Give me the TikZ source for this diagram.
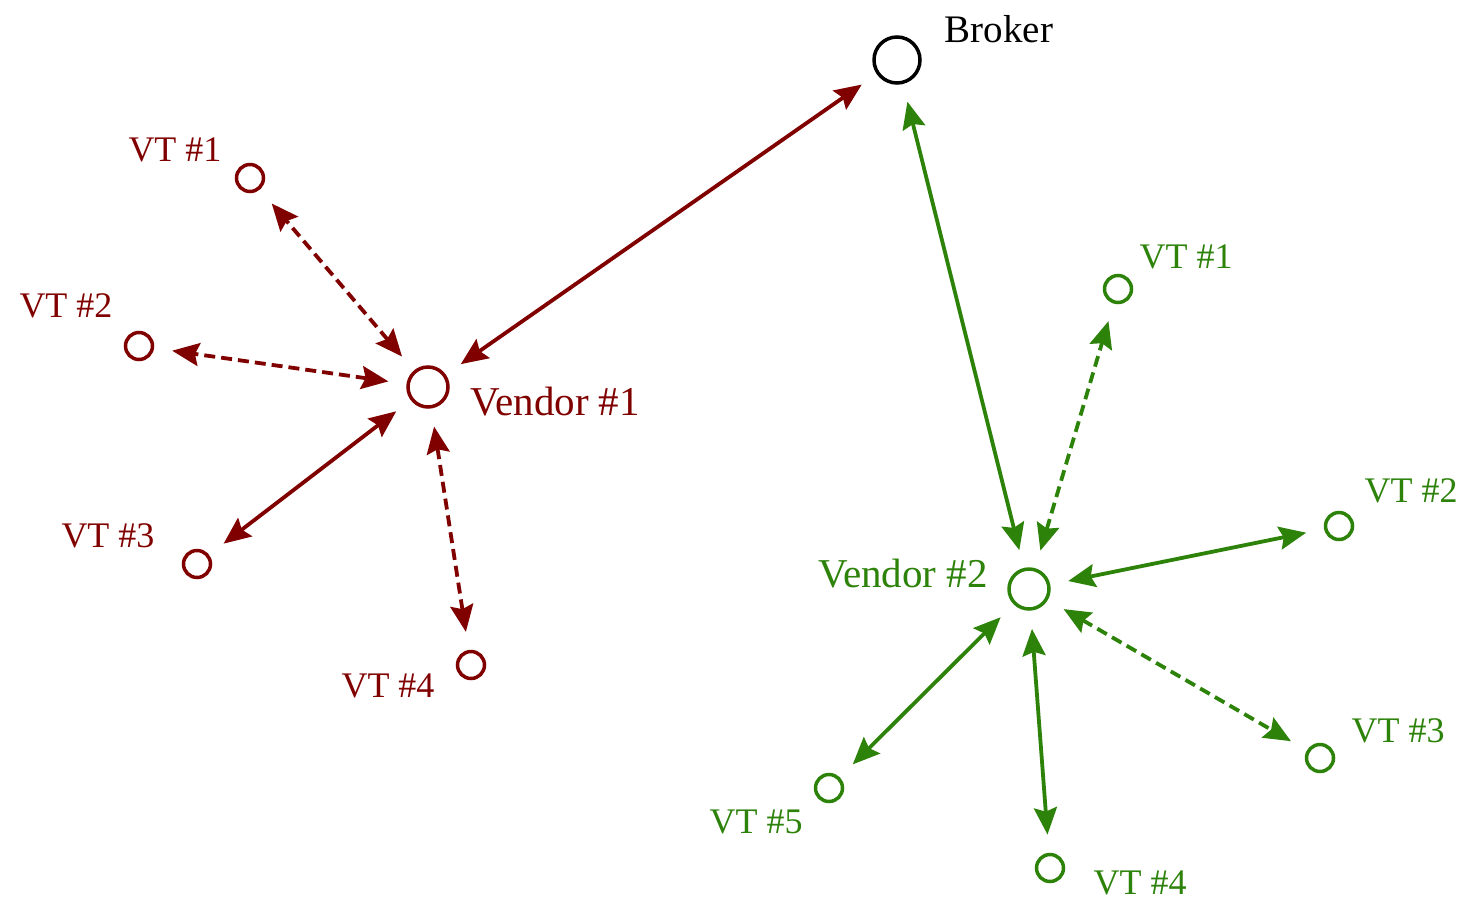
\documentclass[tikz,border=0pt]{standalone}
\usepackage{fontspec}
\setmainfont{Liberation Serif}
\usetikzlibrary{arrows.meta}
\definecolor{vred}{RGB}{128,0,0}
\definecolor{vgreen}{RGB}{45,130,10}
\tikzset{
  pt/.style={circle,draw,line width=3.5pt,minimum size=27pt,inner sep=0pt,outer sep=0pt},
  big/.style={pt,minimum size=40pt},
  lbl/.style={font=\fontsize{36}{40}\selectfont,inner sep=0pt},
  vlbl/.style={font=\fontsize{41}{44}\selectfont,inner sep=0pt},
  tip/.tip={Stealth[length=27pt,width=23pt,inset=4pt]},
  link/.style={line width=3.8pt,tip-tip,shorten >=20pt,shorten <=20pt},
  dlink/.style={link,dash pattern=on 11pt off 6pt}
}
\begin{document}
\begin{tikzpicture}[x=1pt,y=-1pt]
\useasboundingbox (0,0) rectangle (1472,900);
% broker
\node[big,minimum size=46pt] (br) at (897,60) {};
\node[lbl,font=\fontsize{39}{40}\selectfont] (brl) at (999,29) {Broker};
% vendor 1 (red)
\node[big,draw=vred] (v1) at (428,387) {};
\node[vlbl,text=vred,anchor=west] (v1l) at (470,402) {Vendor \#1};
\node[pt,draw=vred] (r1) at (250,178) {};
\node[lbl,text=vred] (r1l) at (175,150) {VT \#1};
\node[pt,draw=vred] (r2) at (139,346) {};
\node[lbl,text=vred] (r2l) at (66,306) {VT \#2};
\node[pt,draw=vred] (r3) at (197,564) {};
\node[lbl,text=vred] (r3l) at (108,536) {VT \#3};
\node[pt,draw=vred] (r4) at (471,665) {};
\node[lbl,text=vred] (r4l) at (388,686) {VT \#4};
\draw[link,vred] (v1) -- (br);
\draw[dlink,vred] (v1) -- (r1);
\draw[dlink,vred] (v1) -- (r2);
\draw[link,vred] (v1) -- (r3);
\draw[dlink,vred] (v1) -- (r4);
% vendor 2 (green)
\node[big,draw=vgreen] (v2) at (1029,589) {};
\node[vlbl,text=vgreen,anchor=east] (v2l) at (988,574) {Vendor \#2};
\node[pt,draw=vgreen] (g1) at (1118,289) {};
\node[lbl,text=vgreen] (g1l) at (1186,257) {VT \#1};
\node[pt,draw=vgreen] (g2) at (1339,526) {};
\node[lbl,text=vgreen] (g2l) at (1411,491) {VT \#2};
\node[pt,draw=vgreen] (g3) at (1320,758) {};
\node[lbl,text=vgreen] (g3l) at (1398,731) {VT \#3};
\node[pt,draw=vgreen] (g4) at (1050,868) {};
\node[lbl,text=vgreen] (g4l) at (1140,883) {VT \#4};
\node[pt,draw=vgreen] (g5) at (829,788) {};
\node[lbl,text=vgreen] (g5l) at (756,822) {VT \#5};
\draw[link,vgreen] (v2) -- (br);
\draw[dlink,vgreen] (v2) -- (g1);
\draw[link,vgreen] (v2) -- (g2);
\draw[dlink,vgreen] (v2) -- (g3);
\draw[link,vgreen] (v2) -- (g4);
\draw[link,vgreen] (v2) -- (g5);
\end{tikzpicture}
\end{document}
